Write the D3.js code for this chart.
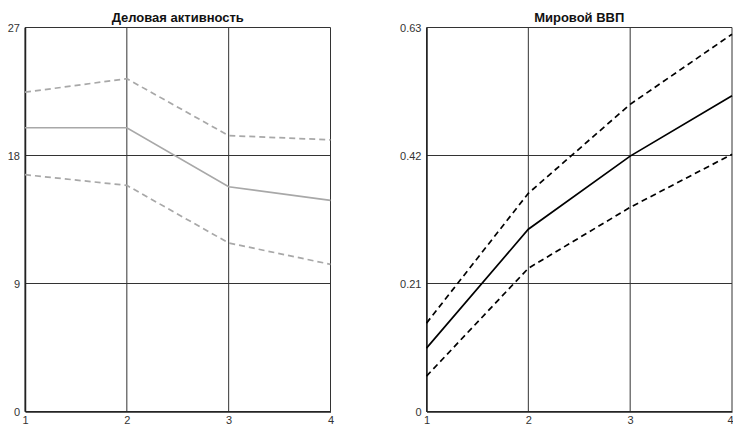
<!DOCTYPE html>
<html><head><meta charset="utf-8">
<script src="https://cdn.jsdelivr.net/npm/d3@7"></script>
<style>body{margin:0;background:#fff;} svg{display:block;}</style>
</head><body>
<svg id="c" width="733" height="426"></svg>
<script>
const xCats = [1, 2, 3, 4];
// Left panel: Деловая активность
const leftTitle = "Деловая активность";
const leftTicks = [0, 9, 18, 27];
const leftMain = [19.95, 19.95, 15.8, 14.85];
const leftUpper = [22.45, 23.4, 19.4, 19.1];
const leftLower = [16.65, 15.9, 11.85, 10.35];
// Right panel: Мировой ВВП
const rightTitle = "Мировой ВВП";
const rightTicks = [0, 0.21, 0.42, 0.63];
const rightMain = [0.104, 0.299, 0.419, 0.518];
const rightUpper = [0.145, 0.358, 0.504, 0.619];
const rightLower = [0.058, 0.235, 0.335, 0.422];

const svg = d3.select("#c");
const plotTop = 27.5, plotBottom = 411.5;

function panel(x0, x1, title, ticks, main, upper, lower, color, fmt) {
  const x = d3.scaleLinear().domain([1, 4]).range([x0, x1]);
  const y = d3.scaleLinear().domain([ticks[0], ticks[ticks.length - 1]]).range([plotBottom, plotTop]);
  const g = svg.append("g");
  // grid
  g.append("g").selectAll("line").data(xCats).join("line")
    .attr("x1", d => x(d)).attr("x2", d => x(d)).attr("y1", plotTop).attr("y2", plotBottom)
    .attr("stroke", "#333").attr("stroke-width", 1);
  g.append("g").selectAll("line").data(ticks).join("line")
    .attr("y1", d => y(d)).attr("y2", d => y(d)).attr("x1", x0).attr("x2", x1)
    .attr("stroke", "#333").attr("stroke-width", 1);
  // axes
  const ya = g.append("g").attr("transform", `translate(${x0},0)`)
    .call(d3.axisLeft(y).tickValues(ticks).tickSize(0).tickPadding(5).tickFormat(fmt));
  ya.select(".domain").attr("stroke", "#222").attr("stroke-width", 1.5);
  ya.selectAll("text").attr("font-family", "Liberation Sans, Arial, sans-serif").attr("font-size", 11).attr("fill", "#333");
  const xa = g.append("g").attr("transform", `translate(0,${plotBottom})`)
    .call(d3.axisBottom(x).tickValues(xCats).tickSize(0).tickPadding(5).tickFormat(d3.format("d")));
  xa.select(".domain").attr("stroke", "#222").attr("stroke-width", 1.5);
  xa.selectAll("text").attr("font-family", "Liberation Sans, Arial, sans-serif").attr("font-size", 11).attr("fill", "#333");
  // keep any tick label that would run past the canvas edge inside it
  xa.selectAll(".tick").filter(d => x(d) + 4 > 733).select("text").attr("text-anchor", "end").attr("x", 733 - x(4));
  // title
  g.append("text").attr("x", (x0 + x1) / 2).attr("y", 22).attr("text-anchor", "middle")
    .attr("font-family", "Liberation Sans, Arial, sans-serif").attr("font-weight", "bold").attr("font-size", 13)
    .attr("fill", "#111").text(title);
  const line = d3.line().x((d, i) => x(xCats[i])).y(d => y(d));
  [[upper, "6,4"], [lower, "6,4"], [main, null]].forEach(([s, dash]) => {
    g.append("path").attr("d", line(s)).attr("fill", "none").attr("stroke", color)
      .attr("stroke-width", 1.7).attr("stroke-dasharray", dash);
  });
}

panel(25, 330.5, leftTitle, leftTicks, leftMain, leftUpper, leftLower, "#a8a8a8", d3.format("d"));
panel(426.5, 732, rightTitle, rightTicks, rightMain, rightUpper, rightLower, "#000", d => d === 0 ? "0" : d3.format(".2f")(d));
</script>
</body></html>
